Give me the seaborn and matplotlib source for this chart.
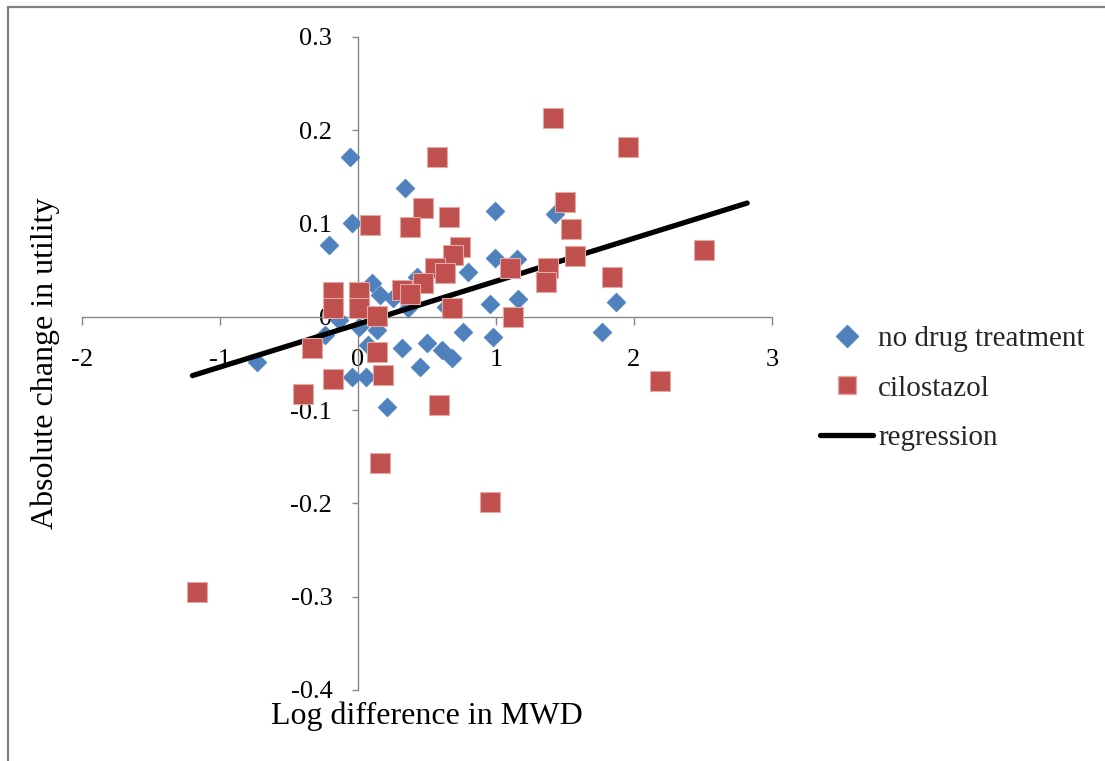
import matplotlib
matplotlib.use("Agg")
import matplotlib.pyplot as plt
from matplotlib.lines import Line2D
from matplotlib.patches import Rectangle
import seaborn as sns
import pandas as pd

# ---- data ----
no_drug_x = [-0.06, -0.04, -0.21, 0.34, 0.99, 1.43, 0.99, 1.15, 0.80, 0.96, 1.16, 1.87,
             1.77, 0.98, 0.76, 0.68, 0.61, 0.50, 0.45, 0.32, 0.21, -0.04, 0.06, -0.73,
             -0.24, -0.14, 0.01, 0.14, 0.07, 0.10, 0.16, 0.25, 0.36, 0.43, 0.64]
no_drug_y = [0.171, 0.101, 0.077, 0.138, 0.113, 0.110, 0.063, 0.062, 0.048, 0.014, 0.019, 0.016,
             -0.016, -0.022, -0.016, -0.044, -0.035, -0.028, -0.054, -0.033, -0.097, -0.064, -0.064, -0.048,
             -0.019, -0.003, -0.011, -0.014, -0.030, 0.036, 0.023, 0.020, 0.010, 0.043, 0.011]

cilo_x = [1.41, 1.96, 0.57, 1.50, 0.47, 0.66, 0.38, 0.09, 1.54, 0.74, 0.69, 2.51, 1.57,
          1.10, 1.38, 1.36, 1.84, 0.56, 0.63, 0.47, 0.32, 0.38, 0.68, 1.12, -0.18, -0.18,
          0.01, 0.01, 0.14, 0.14, -0.33, -0.18, 0.18, -0.40, 0.59, 0.16, 0.96, 2.19, -1.17]
cilo_y = [0.213, 0.182, 0.171, 0.123, 0.117, 0.107, 0.096, 0.098, 0.094, 0.075, 0.066, 0.072, 0.065,
          0.052, 0.052, 0.037, 0.043, 0.052, 0.047, 0.036, 0.029, 0.025, 0.010, 0.000, 0.027, 0.010,
          0.027, 0.010, 0.001, -0.038, -0.033, -0.067, -0.062, -0.083, -0.094, -0.157, -0.198, -0.069, -0.295]

reg_x = [-1.20, 2.82]
reg_y = [-0.063, 0.122]

x_ticks = [-2, -1, 0, 1, 2, 3]
x_tick_labels = ["-2", "-1", "0", "1", "2", "3"]
y_ticks = [-0.4, -0.3, -0.2, -0.1, 0.0, 0.1, 0.2, 0.3]
y_tick_labels = ["-0.4", "-0.3", "-0.2", "-0.1", "0", "0.1", "0.2", "0.3"]

series_labels = ["no drug treatment", "cilostazol", "regression"]
x_title = "Log difference in MWD"
y_title = "Absolute change in utility"

BLUE = "#4F81BD"
RED = "#C0504D"
AXIS_GRAY = "#868686"

sns.set_theme(style="white")
plt.rcParams["font.family"] = ["Liberation Serif", "DejaVu Serif"]

df_nd = pd.DataFrame({"x": no_drug_x, "y": no_drug_y})
df_c = pd.DataFrame({"x": cilo_x, "y": cilo_y})
df_r = pd.DataFrame({"x": reg_x, "y": reg_y})

fig = plt.figure(figsize=(11.05, 7.61), dpi=100)
ax = fig.add_axes([82 / 1105, 1 - 690 / 761, 690 / 1105, 653 / 761])

sns.scatterplot(data=df_nd, x="x", y="y", ax=ax, marker="D", s=95, color=BLUE,
                edgecolor=BLUE, linewidth=0.3, zorder=3, legend=False)
sns.lineplot(data=df_r, x="x", y="y", ax=ax, color="black", linewidth=3.8,
             zorder=4, legend=False, solid_capstyle="round")
sns.scatterplot(data=df_c, x="x", y="y", ax=ax, marker="s", s=210, color=RED,
                edgecolor="#E3A9A7", linewidth=0.8, zorder=5, legend=False)

ax.set_xlim(-2, 3)
ax.set_ylim(-0.4, 0.3)
ax.set_xticks(x_ticks)
ax.set_xticklabels(x_tick_labels)
ax.set_yticks(y_ticks)
ax.set_yticklabels(y_tick_labels)

for side in ["top", "right"]:
    ax.spines[side].set_visible(False)
ax.spines["left"].set_position(("data", 0))
ax.spines["bottom"].set_position(("data", 0))
for side in ["left", "bottom"]:
    ax.spines[side].set_color(AXIS_GRAY)
    ax.spines[side].set_linewidth(1.0)
    ax.spines[side].set_zorder(1)

ax.tick_params(axis="x", direction="out", length=6, width=1, color=AXIS_GRAY,
               pad=17, labelsize=19, labelcolor="black", bottom=True)
ax.tick_params(axis="y", direction="out", length=4.5, width=1, color=AXIS_GRAY,
               pad=14, labelsize=19, labelcolor="black", left=True)

ax.set_xlabel(x_title, fontsize=23, color="black")
ax.xaxis.set_label_coords(0.5, -0.018)
ax.set_ylabel(y_title, fontsize=23, color="black")
ax.yaxis.set_label_coords(-0.032, 0.5)
ax.patch.set_alpha(0)

handles = [
    Line2D([], [], marker="D", ls="", color=BLUE, markersize=11),
    Line2D([], [], marker="s", ls="", color=RED, markeredgecolor="#E3A9A7", markersize=12.5),
    Line2D([], [], color="black", lw=3.8),
]
ax.legend(handles, series_labels, loc="upper left", bbox_to_anchor=(820 / 1105, 0.572),
          bbox_transform=fig.transFigure, frameon=False, borderpad=0, borderaxespad=0,
          fontsize=21, handlelength=1.82, handletextpad=0.17, labelspacing=0.79)

fig.add_artist(Rectangle((8 / 1105, -0.05), 1.2, 1.05 - 7 / 761, transform=fig.transFigure,
                         fill=False, edgecolor="#808080", linewidth=1.6))

fig.savefig("out.png", dpi=100, facecolor="white")
